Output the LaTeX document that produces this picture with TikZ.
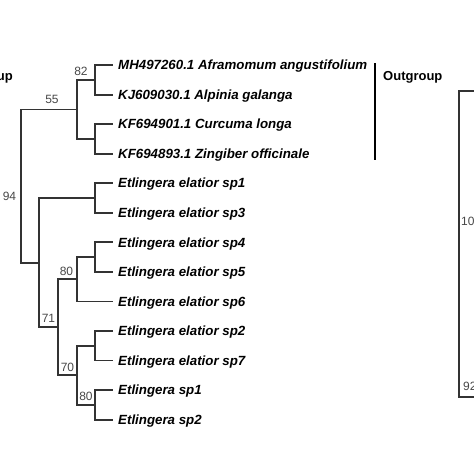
\documentclass[tikz,border=0pt]{standalone}
\usepackage{fontspec}
\newfontfamily\arialfont{Liberation Sans}

\begin{document}
\begin{tikzpicture}[x=1pt, y=-1pt,
    branch/.style={draw=black!80, line width=1.8pt},
    taxon/.style={anchor=west, inner xsep=5pt, inner ysep=0pt,
                  text height=9.5pt, text depth=0pt,
                  font=\arialfont\bfseries\itshape\fontsize{13.3}{16}\selectfont},
    boot/.style={font=\arialfont\fontsize{12}{14}\selectfont,
                 text=black!72, inner sep=0pt, anchor=south, yshift=3pt},
    grouplabel/.style={anchor=base west, inner sep=0pt,
                       font=\arialfont\bfseries\fontsize{13}{15}\selectfont}]
    \useasboundingbox (0,0) rectangle (474,474);
    \clip (0,0) rectangle (474,474);

    \coordinate (root) at (21,186);
    \coordinate (n55)  at (77,109.4);
    \coordinate (n82)  at (95,79.8);
    \coordinate (ncur) at (95,138.9);
    \coordinate (netl) at (39,262.6);
    \coordinate (nsp13) at (95,198);
    \coordinate (n71)  at (58,327.3);
    \coordinate (n80a) at (77,279.3);
    \coordinate (nsp45) at (95,257.1);
    \coordinate (n70)  at (77,375.3);
    \coordinate (nsp27) at (95,345.8);
    \coordinate (n80b) at (95,404.9);

    \node[taxon] (mh)   at (113,65)    {MH497260.1 Aframomum angustifolium};
    \node[taxon] (kj)   at (113,94.6)  {KJ609030.1 Alpinia galanga};
    \node[taxon] (kf01) at (113,124.1) {KF694901.1 Curcuma longa};
    \node[taxon] (kf93) at (113,153.7) {KF694893.1 Zingiber officinale};
    \node[taxon] (es1)  at (113,183.2) {Etlingera elatior sp1};
    \node[taxon] (es3)  at (113,212.8) {Etlingera elatior sp3};
    \node[taxon] (es4)  at (113,242.3) {Etlingera elatior sp4};
    \node[taxon] (es5)  at (113,271.9) {Etlingera elatior sp5};
    \node[taxon] (es6)  at (113,301.4) {Etlingera elatior sp6};
    \node[taxon] (es2)  at (113,331)   {Etlingera elatior sp2};
    \node[taxon] (es7)  at (113,360.5) {Etlingera elatior sp7};
    \node[taxon] (et1)  at (113,390.1) {Etlingera sp1};
    \node[taxon] (et2)  at (113,419.6) {Etlingera sp2};

    \draw[branch] (root) |- node[boot, pos=0.75, xshift=3pt, yshift=2pt] {55} (n55);
    \draw[branch] (root) |- (netl);
    \draw[branch] (n55) |- node[boot, pos=0.75, xshift=-5pt] {82} (n82);
    \draw[branch] (n55) |- (ncur);
    \draw[branch] (n82) |- (mh.west);
    \draw[branch] (n82) |- (kj.west);
    \draw[branch] (ncur) |- (kf01.west);
    \draw[branch] (ncur) |- (kf93.west);
    \draw[branch] (netl) |- (nsp13);
    \draw[branch] (netl) |- node[boot, pos=0.75, yshift=1pt] {71} (n71);
    \draw[branch] (nsp13) |- (es1.west);
    \draw[branch] (nsp13) |- (es3.west);
    \draw[branch] (n71) |- node[boot, pos=0.75, xshift=-1pt] {80} (n80a);
    \draw[branch] (n71) |- node[boot, pos=0.75] {70} (n70);
    \draw[branch] (n80a) |- (nsp45);
    \draw[branch] (n80a) |- (es6.west);
    \draw[branch] (nsp45) |- (es4.west);
    \draw[branch] (nsp45) |- (es5.west);
    \draw[branch] (n70) |- (nsp27);
    \draw[branch] (n70) |- node[boot, pos=0.75] {80} (n80b);
    \draw[branch] (nsp27) |- (es2.west);
    \draw[branch] (nsp27) |- (es7.west);
    \draw[branch] (n80b) |- (et1.west);
    \draw[branch] (n80b) |- (et2.west);
    \node[boot, anchor=center, yshift=0pt] (b94) at (9.5,199) {94};

    \node[grouplabel, anchor=base east] (ingroup) at (13,80.5) {up};
    \node[grouplabel] (outgroup) at (383,80.5) {Outgroup};
    \coordinate (ogtop) at (375,63);
    \coordinate (ogbot) at (375,160);
    \draw[line width=2.4pt] (ogtop) -- (ogbot);

    \coordinate (r2)  at (459,244);
    \coordinate (r2a) at (480,91);
    \coordinate (r2b) at (480,397);
    \draw[branch] (r2) |- (r2a);
    \draw[branch] (r2) |- (r2b);
    \node[boot, anchor=west, yshift=0pt] (b100) at (461,224) {100};
    \node[boot, anchor=south west, yshift=0pt] (b92) at (463,393.5) {92};
\end{tikzpicture}
\end{document}
